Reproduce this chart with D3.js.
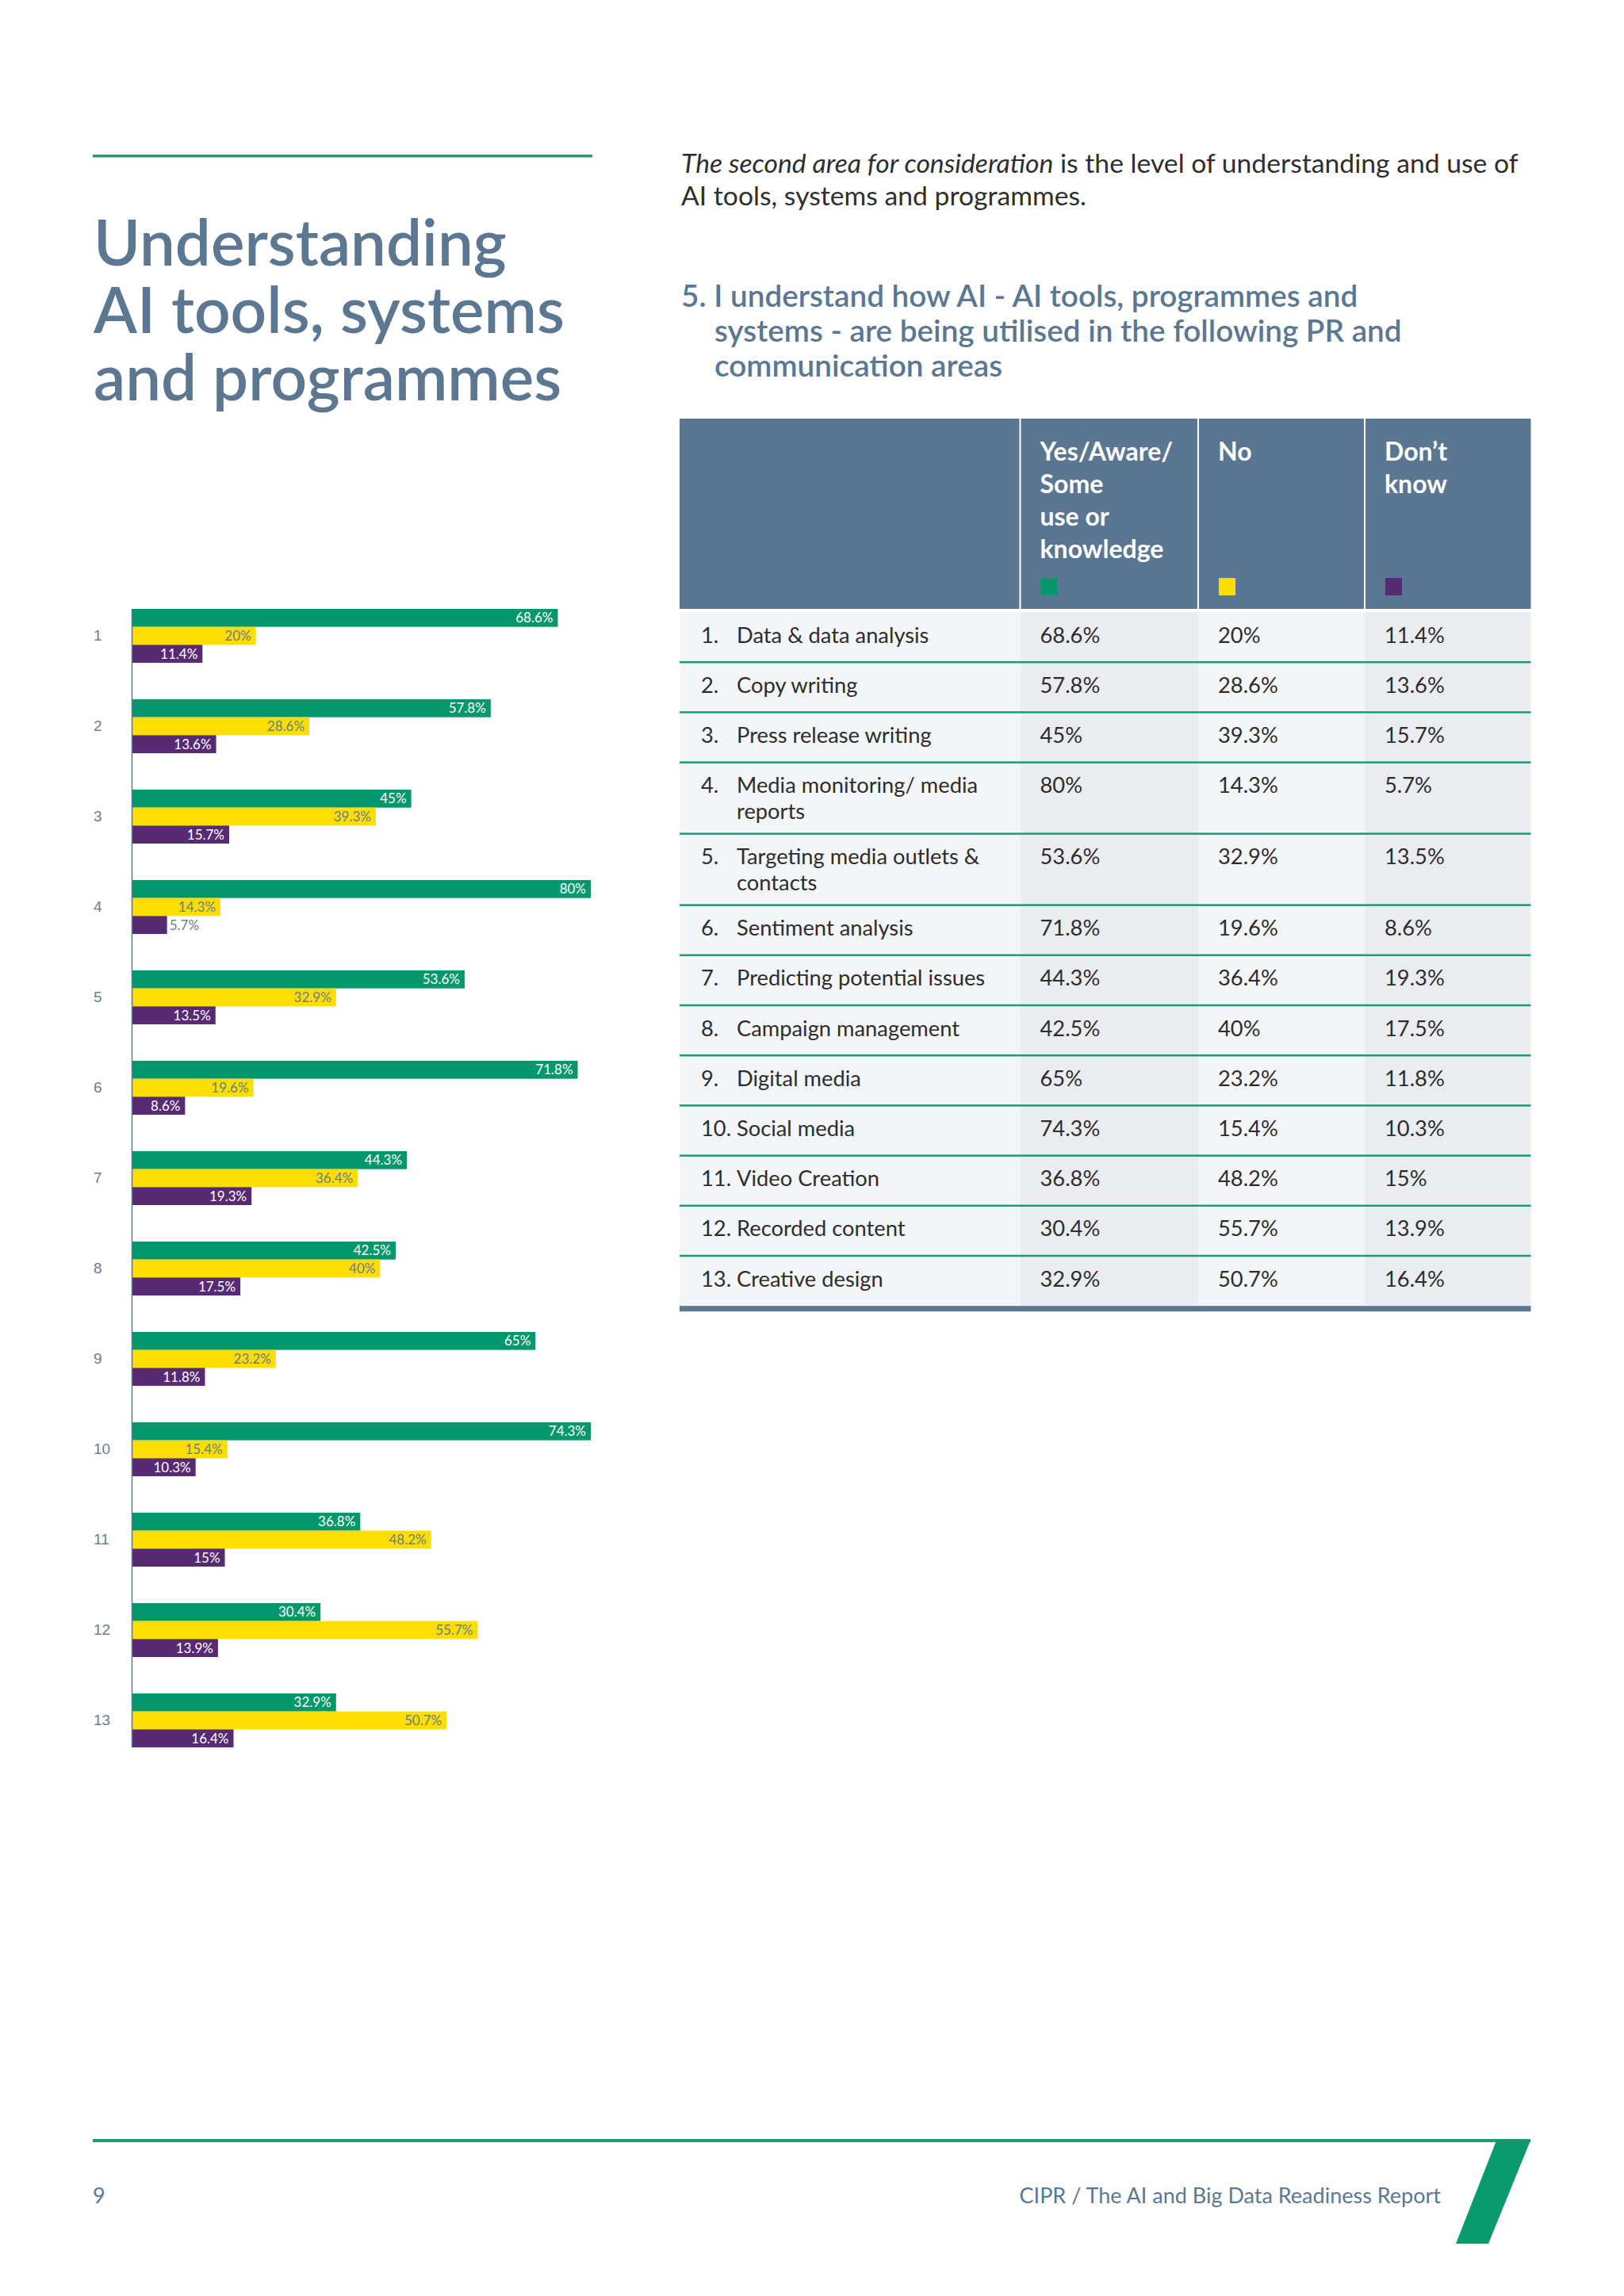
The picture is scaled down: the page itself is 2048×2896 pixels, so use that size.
<!DOCTYPE html>
<html>
<head>
<meta charset="UTF-8">
<title>Understanding AI tools, systems and programmes</title>
<style>
  body { margin: 0; background: #fff; }
  svg { display: block; font-family: Lato, "Open Sans", sans-serif; }
  .cat text { font-size: 19px; fill: #6b7d91; }
  .cat path { stroke: #5b7791; stroke-width: 1.5; }
</style>
</head>
<body>
<script src="https://d3js.org/d3.v7.min.js"></script>
<script>

// survey areas (row numbers used on the chart axis)
const categories = ["1","2","3","4","5","6","7","8","9","10","11","12","13"];
const areas = [
  "Data & data analysis",
  "Copy writing",
  "Press release writing",
  "Media monitoring/ media\nreports",
  "Targeting media outlets &\ncontacts",
  "Sentiment analysis",
  "Predicting potential issues",
  "Campaign management",
  "Digital media",
  "Social media",
  "Video Creation",
  "Recorded content",
  "Creative design"
];
const series = ["yes", "no", "dk"];
const seriesHeaders = [["Yes/Aware/","Some","use or","knowledge"], ["No"], ["Don\u2019t","know"]];
const yesValues = [68.6, 57.8, 45, 80, 53.6, 71.8, 44.3, 42.5, 65, 74.3, 36.8, 30.4, 32.9];
const noValues  = [20, 28.6, 39.3, 14.3, 32.9, 19.6, 36.4, 40, 23.2, 15.4, 48.2, 55.7, 50.7];
const dkValues  = [11.4, 13.6, 15.7, 5.7, 13.5, 8.6, 19.3, 17.5, 11.8, 10.3, 15, 13.9, 16.4];

const colors = {yes: "#03976c", no: "#fedd00", dk: "#582a74"};
const labelColors = {yes: "#ffffff", no: "#6b7d8b", dk: "#ffffff"};
const slate = "#5b7791";
const green = "#1a9c74";

const W = 2048, H = 2896;
const svg = d3.select("body").append("svg").attr("width", W).attr("height", H);

// ---------- left title ----------
svg.append("rect").attr("x", 117).attr("y", 195).attr("width", 630).attr("height", 3.5).attr("fill", green);

svg.append("g").selectAll("text").data(["Understanding", "AI tools, systems", "and programmes"]).join("text")
  .attr("x", 118).attr("y", (d, i) => 335 + i * 85)
  .attr("fill", "#5c7791").attr("font-size", 80).attr("font-weight", 600)
  .text(d => d);

// ---------- bar chart ----------
const rows = categories.map((c, i) => ({cat: c, yes: yesValues[i], no: noValues[i], dk: dkValues[i]}));

// the printed chart tops out at ~74%, the 80% bar is cut at the edge
const x = d3.scaleLinear().domain([0, 73.9]).range([166, 745]).clamp(true);
const y = d3.scaleBand().domain(categories).range([768, 2204]).paddingInner(0.4035);
const ySub = d3.scaleBand().domain(series).range([0, y.bandwidth()]);

const groups = svg.append("g").selectAll("g").data(rows).join("g")
  .attr("transform", d => `translate(0,${y(d.cat)})`);

groups.selectAll("rect").data(d => series.map(k => ({k, v: d[k]}))).join("rect")
  .attr("x", x(0))
  .attr("y", d => ySub(d.k))
  .attr("width", d => x(d.v) - x(0))
  .attr("height", ySub.bandwidth())
  .attr("fill", d => colors[d.k]);

groups.selectAll("text").data(d => series.map(k => ({k, v: d[k]}))).join("text")
  .attr("x", d => (x(d.v) - x(0) < 50) ? x(d.v) + 3 : x(d.v) - 6)
  .attr("y", d => ySub(d.k) + ySub.bandwidth() / 2)
  .attr("dy", "0.36em")
  .attr("text-anchor", d => (x(d.v) - x(0) < 50) ? "start" : "end")
  .attr("font-size", 17)
  .attr("fill", d => (x(d.v) - x(0) < 50) ? "#6b7d91" : labelColors[d.k])
  .text(d => d.v + "%");

const axis = svg.append("g").attr("class", "cat")
  .attr("transform", `translate(${x(0)},0)`)
  .call(d3.axisLeft(y).tickSize(0).tickSizeOuter(0));
axis.selectAll("text").attr("x", -48).attr("text-anchor", "start");

// ---------- right column text ----------
const intro = svg.append("text").attr("x", 859).attr("y", 218).attr("font-size", 33.7).attr("fill", "#2e2e2e");
intro.append("tspan").attr("font-style", "italic").text("The second area for consideration");
intro.append("tspan").text(" is the level of understanding and use of");
svg.append("text").attr("x", 859).attr("y", 259).attr("font-size", 33.7).attr("fill", "#2e2e2e")
  .text("AI tools, systems and programmes.");

const heading = ["5. I understand how AI - AI tools, programmes and", "systems - are being utilised in the following PR and", "communication areas"];
svg.append("g").selectAll("text").data(heading).join("text")
  .attr("x", (d, i) => i ? 901 : 859)
  .attr("y", (d, i) => 387 + i * 44)
  .attr("font-size", 38.7).attr("font-weight", 600).attr("fill", slate)
  .text(d => d);

// ---------- table ----------
const colX = [857, 1286.5, 1511, 1721, 1930.5];
const headTop = 528, headBottom = 768, bodyTop = 772;
const table = svg.append("g");

table.append("rect").attr("x", colX[0]).attr("y", headTop)
  .attr("width", colX[4] - colX[0]).attr("height", headBottom - headTop).attr("fill", "#5a7690");

seriesHeaders.forEach((lines, j) => {
  const tx = colX[j + 1] + 25;
  table.append("text").attr("x", tx).attr("y", 581)
    .attr("font-size", 32).attr("font-weight", 700).attr("fill", "#fff")
    .selectAll("tspan").data(lines).join("tspan")
    .attr("x", tx).attr("dy", (d, i) => i ? 41 : 0).text(d => d);
  table.append("rect").attr("x", tx + 1).attr("y", 729).attr("width", 21).attr("height", 22).attr("fill", colors[series[j]]);
});

[1, 2, 3].forEach(j => {
  table.append("rect").attr("x", colX[j] - 1).attr("y", headTop).attr("width", 2).attr("height", headBottom - headTop).attr("fill", "#fff");
});

const rowH = areas.map(a => a.includes("\n") ? 90 : 63.2);
const rowTop = [];
rowH.reduce((acc, h, i) => { rowTop[i] = acc; return acc + h; }, bodyTop);
const bodyBottom = rowTop[12] + rowH[12];

const colFill = ["#f4f5f7", "#ebecef", "#f4f5f7", "#ebecef"];
colFill.forEach((f, j) => {
  table.append("rect").attr("x", colX[j]).attr("y", bodyTop)
    .attr("width", colX[j + 1] - colX[j]).attr("height", bodyBottom - bodyTop).attr("fill", f);
});

// row separators
table.selectAll(".sep").data(rowTop.slice(1)).join("rect").attr("class", "sep")
  .attr("x", colX[0]).attr("y", d => d - 1.25).attr("width", colX[4] - colX[0]).attr("height", 2.5).attr("fill", green);
table.append("rect").attr("x", colX[0]).attr("y", bodyBottom).attr("width", colX[4] - colX[0]).attr("height", 7).attr("fill", "#5a7690");

const tRows = table.selectAll(".row").data(areas).join("g").attr("class", "row")
  .attr("transform", (d, i) => `translate(0,${rowTop[i] + 38.5})`)
  .attr("font-size", 27.3).attr("fill", "#2d2d2d");

tRows.append("text").attr("x", 884).text((d, i) => (i + 1) + ".");
tRows.append("text").selectAll("tspan").data(d => d.split("\n")).join("tspan")
  .attr("x", 929).attr("dy", (d, i) => i ? 33 : 0).text(d => d);
[yesValues, noValues, dkValues].forEach((vals, j) => {
  tRows.append("text").attr("x", colX[j + 1] + 25).text((d, i) => vals[i] + "%");
});

// ---------- footer ----------
svg.append("rect").attr("x", 117).attr("y", 2698).attr("width", 1813).attr("height", 4).attr("fill", green);
svg.append("polygon").attr("points", "1887,2700 1930,2700 1877,2830 1836,2830").attr("fill", "#069a6d");
svg.append("text").attr("x", 117).attr("y", 2779).attr("font-size", 27).attr("fill", slate).text("9");
svg.append("text").attr("x", 1817).attr("y", 2779).attr("font-size", 27).attr("fill", slate)
  .attr("text-anchor", "end").text("CIPR / The AI and Big Data Readiness Report");

</script>
</body>
</html>
